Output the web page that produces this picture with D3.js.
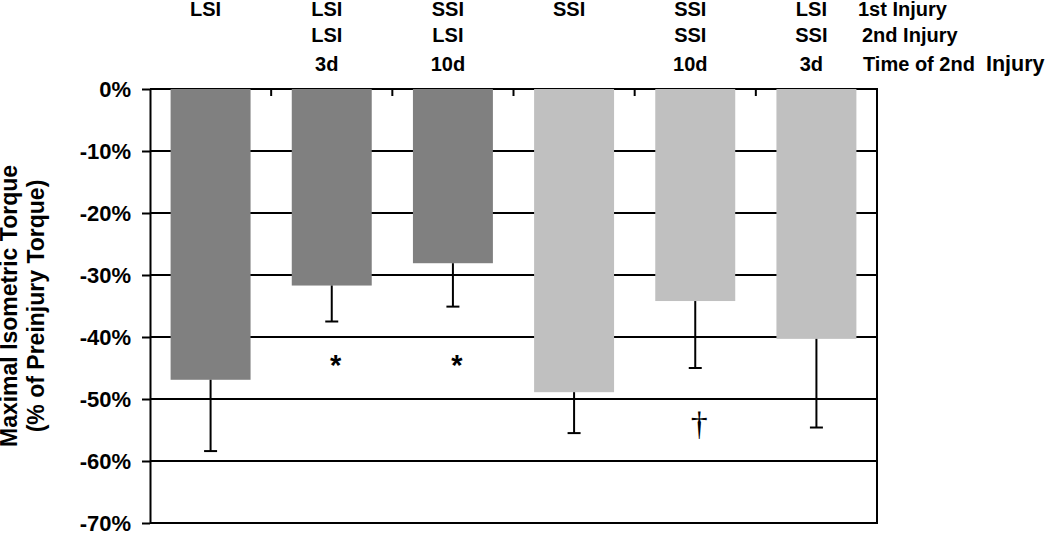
<!DOCTYPE html>
<html>
<head>
<meta charset="utf-8">
<script src="https://cdn.jsdelivr.net/npm/d3@7"></script>
<style>
  body { margin: 0; background: #fff; }
  text { font-family: "Liberation Sans", Arial, sans-serif; font-weight: bold; fill: #000; }
</style>
</head>
<body>
<svg id="chart"></svg>
<script>
// Data
const firstInjury = ['LSI', 'LSI', 'SSI', 'SSI', 'SSI', 'LSI'];
const secondInjury = ['', 'LSI', 'LSI', '', 'SSI', 'SSI'];
const timeOf2nd = ['', '3d', '10d', '', '10d', '3d'];
const torque = [-46.9, -31.7, -28.1, -48.9, -34.2, -40.3];
const errors = [11.5, 5.8, 7.0, 6.6, 10.8, 14.3];
const barShade = ['dark', 'dark', 'dark', 'light', 'light', 'light'];
const marks = ['', '*', '*', '', '\u2020', ''];
const markAt = [null, -43.5, -43.5, null, -54, null];
const yTicks = [0, -10, -20, -30, -40, -50, -60, -70];
const rowNames = ['1st Injury', '2nd Injury', 'Time of 2nd'];

const width = 1050, height = 533;
const plotLeft = 150, plotRight = 877, plotTop = 89, plotBottom = 523;

const svg = d3.select('#chart')
    .attr('width', width)
    .attr('height', height);

const x = d3.scaleBand()
    .domain(d3.range(torque.length))
    .range([plotLeft, plotRight])
    .paddingInner(0.34)
    .paddingOuter(0.17);

const y = d3.scaleLinear()
    .domain([-70, 0])
    .range([plotBottom, plotTop]);

const color = d3.scaleOrdinal()
    .domain(['dark', 'light'])
    .range(['#808080', '#c0c0c0']);

// Gridlines
svg.append('g')
    .selectAll('line')
    .data(yTicks)
    .enter()
    .append('line')
    .attr('x1', plotLeft)
    .attr('x2', plotRight)
    .attr('y1', d => y(d))
    .attr('y2', d => y(d))
    .attr('stroke', '#000')
    .attr('stroke-width', 2);

// Bars
svg.append('g')
    .selectAll('rect')
    .data(torque)
    .enter()
    .append('rect')
    .attr('x', (d, i) => x(i))
    .attr('y', y(0))
    .attr('width', x.bandwidth())
    .attr('height', d => y(d) - y(0))
    .attr('fill', (d, i) => color(barShade[i]));

// Error bars (downward only)
const err = svg.append('g')
    .attr('stroke', '#000')
    .attr('stroke-width', 2);
torque.forEach((d, i) => {
    const cx = x(i) + x.bandwidth() / 2;
    err.append('line')
        .attr('x1', cx).attr('x2', cx)
        .attr('y1', y(d)).attr('y2', y(d - errors[i]));
    err.append('line')
        .attr('x1', cx - 6.5).attr('x2', cx + 6.5)
        .attr('y1', y(d - errors[i])).attr('y2', y(d - errors[i]));
});

// Significance marks
marks.forEach((m, i) => {
    if (!m) return;
    const cx = x(i) + x.bandwidth() / 2;
    if (m === '*') {
        svg.append('text')
            .attr('x', cx + 4)
            .attr('y', y(markAt[i]) + 16)
            .attr('text-anchor', 'middle')
            .style('font-size', '29px')
            .text(m);
    } else {
        svg.append('text')
            .attr('x', cx + 4)
            .attr('y', y(markAt[i]) + 11)
            .attr('text-anchor', 'middle')
            .style('font-family', '"Liberation Serif", serif')
            .style('font-weight', 'normal')
            .style('font-size', '34px')
            .text(m);
    }
});

// Y axis
const yAxis = svg.append('g')
    .attr('transform', 'translate(' + plotLeft + ',0)')
    .call(d3.axisLeft(y)
        .tickValues(yTicks)
        .tickSize(8)
        .tickSizeOuter(0)
        .tickPadding(11)
        .tickFormat(d => d + '%'));
yAxis.select('.domain').attr('stroke', '#000').attr('stroke-width', 2);
yAxis.selectAll('.tick line').attr('stroke', '#000').attr('stroke-width', 2);
yAxis.selectAll('.tick text')
    .style('font-family', '"Liberation Sans", Arial, sans-serif')
    .style('font-weight', 'bold')
    .style('font-size', '22px')
    .attr('fill', '#000');

// Right border
svg.append('line')
    .attr('x1', plotRight).attr('x2', plotRight)
    .attr('y1', plotTop - 1).attr('y2', plotBottom + 1)
    .attr('stroke', '#000')
    .attr('stroke-width', 2);

// Category separator ticks at the top
svg.append('g')
    .selectAll('line')
    .data(d3.range(1, torque.length))
    .enter()
    .append('line')
    .attr('x1', d => x(d) - x.step() * x.paddingInner() / 2)
    .attr('x2', d => x(d) - x.step() * x.paddingInner() / 2)
    .attr('y1', plotTop)
    .attr('y2', plotTop + 7)
    .attr('stroke', '#000')
    .attr('stroke-width', 2);

// Category labels above the chart
const rows = [firstInjury, secondInjury, timeOf2nd];
const rowY = [16, 42, 71];
rows.forEach((row, r) => {
    svg.append('g')
        .selectAll('text')
        .data(row)
        .enter()
        .append('text')
        .attr('x', (d, i) => x(i) + x.bandwidth() / 2 - 5)
        .attr('y', rowY[r])
        .attr('text-anchor', 'middle')
        .style('font-size', '20px')
        .text(d => d);
});

// Row names on the right
const rowX = [858, 862, 863];
rowNames.forEach((name, r) => {
    svg.append('text')
        .attr('x', rowX[r])
        .attr('y', rowY[r])
        .style('font-size', '20px')
        .text(name);
});
svg.append('text')
    .attr('x', 986)
    .attr('y', rowY[2])
    .style('font-size', '21.5px')
    .text('Injury');

// Y axis title
const title = svg.append('text')
    .attr('transform', 'translate(0,' + ((plotTop + plotBottom) / 2) + ') rotate(-90)')
    .attr('text-anchor', 'middle')
    .style('font-size', '23px');
title.append('tspan').attr('x', 0).attr('y', 17).text('Maximal Isometric Torque');
title.append('tspan').attr('x', 0).attr('y', 44).text('(% of Preinjury Torque)');
</script>
</body>
</html>
